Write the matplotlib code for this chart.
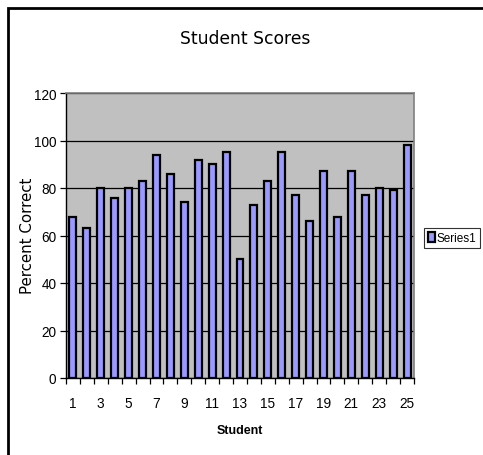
import matplotlib.pyplot as plt
from matplotlib.patches import Rectangle
import numpy as np

students = np.arange(1, 26)
scores = [68, 63, 80, 76, 80, 83, 94, 86, 74, 92, 90, 95, 50,
          73, 83, 95, 77, 66, 87, 68, 87, 77, 80, 79, 98]
series_name = "Series1"

W, H = 483, 456
fig = plt.figure(figsize=(W / 100, H / 100), dpi=100)
fig.patch.set_facecolor("white")

# outer chart frame (runs off the right and bottom edges)
fig.patches.append(Rectangle((8 / W, -0.1), 1.2, 1 - 9 / H + 0.1,
                             transform=fig.transFigure, fill=False,
                             edgecolor="black", linewidth=2))

ax = fig.add_axes([66 / W, 1 - 379 / H, (414 - 66) / W, (379 - 94) / H])
ax.set_facecolor("#c0c0c0")

ax.bar(students, scores, width=0.5, color="#9999ff", edgecolor="black",
       linewidth=1.6, zorder=3, label=series_name)

ax.set_xlim(0.5, 25.5)
ax.set_ylim(0, 120)
ax.set_yticks(np.arange(0, 121, 20))
ax.yaxis.grid(True, color="black", linewidth=0.9, zorder=1)
ax.set_axisbelow(True)

ax.set_xticks(students[::2])
ax.set_xticks(np.arange(0.5, 26, 1), minor=True)
ax.tick_params(axis="x", which="major", length=0, pad=13)
ax.tick_params(axis="x", which="minor", length=4, width=0.9, direction="out")
ax.tick_params(axis="y", length=4, width=0.9, direction="out", pad=3)

for lab in ax.get_xticklabels() + ax.get_yticklabels():
    lab.set_fontfamily("Liberation Sans")
    lab.set_fontsize(9.8)

for side in ("top", "right"):
    ax.spines[side].set_color("#808080")
    ax.spines[side].set_linewidth(1.2)
for side in ("left", "bottom"):
    ax.spines[side].set_color("black")
    ax.spines[side].set_linewidth(1.0)

fig.text(245 / W, 1 - 39 / H, "Student Scores", ha="center", va="center",
         fontsize=12.3, fontfamily="DejaVu Sans")
fig.text(28 / W, 1 - 236 / H, "Percent Correct", ha="center", va="center",
         rotation=90, fontsize=10.8, fontfamily="DejaVu Sans")
fig.text(240 / W, 1 - 431 / H, "Student", ha="center", va="center",
         fontsize=9, fontweight="bold", fontfamily="Liberation Sans")

leg = fig.legend(loc="center left", bbox_to_anchor=(424 / W, 1 - 239 / H),
                 frameon=True, fancybox=False, edgecolor="black",
                 handlelength=0.6, handleheight=0.9,
                 handletextpad=0.2, borderpad=0.3, borderaxespad=0,
                 prop=dict(family="Liberation Sans", size=8.5))
leg.get_frame().set_linewidth(0.8)

fig.savefig("out.png", dpi=100)
